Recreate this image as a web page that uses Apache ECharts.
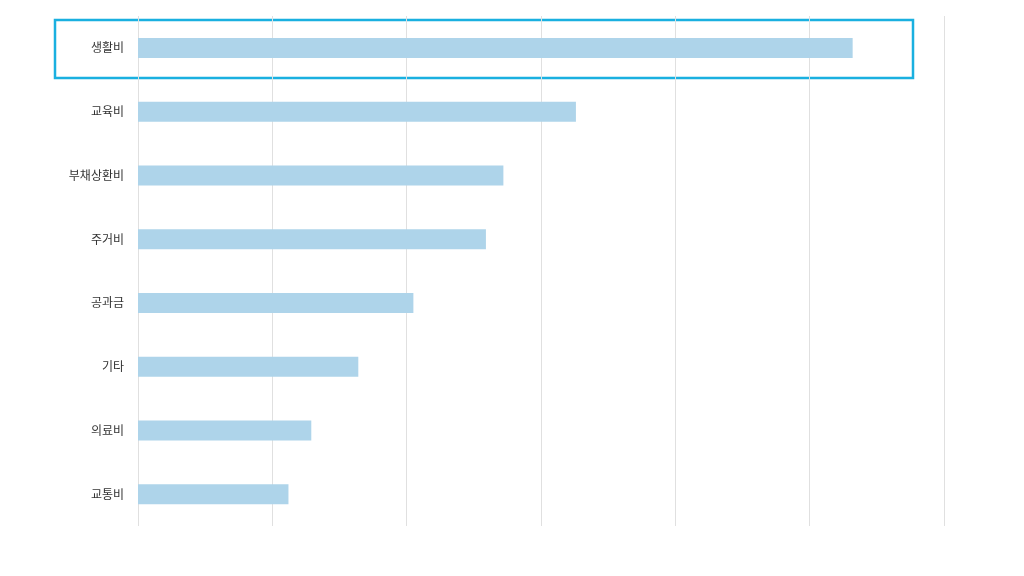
<!DOCTYPE html>
<html>
<head>
<meta charset="utf-8">
<script src="https://cdn.jsdelivr.net/npm/echarts@6/dist/echarts.min.js"></script>
<style>html,body{margin:0;padding:0;background:#fff}#main{width:1024px;height:576px}</style>
</head>
<body>
<div id="main"></div>
<script>
// 항목 (위에서 아래 순서)
var categories = ['생활비', '교육비', '부채상환비', '주거비', '공과금', '기타', '의료비', '교통비'];
var values = [53.2, 32.6, 27.2, 25.9, 20.5, 16.4, 12.9, 11.2];

var chart = echarts.init(document.getElementById('main'));
chart.setOption({
    animation: false,
    grid: { left: 138, right: 80, top: 16, bottom: 50 },
    xAxis: {
        type: 'value', min: 0, max: 60, interval: 10,
        axisLabel: { show: false },
        axisLine: { show: false },
        axisTick: { show: false },
        splitLine: { lineStyle: { color: '#e0e0e0' } }
    },
    yAxis: {
        type: 'category', inverse: true, data: categories,
        axisLine: { show: false },
        axisTick: { show: false },
        axisLabel: { color: '#333', fontSize: 12, margin: 14, fontFamily: 'Noto Sans CJK KR' }
    },
    series: [{
        type: 'bar', data: values, barWidth: 20,
        itemStyle: { color: '#aed4ea' }
    }],
    // 생활비 강조 박스
    graphic: [{
        type: 'rect', shape: { x: 55, y: 20, width: 858, height: 58 },
        style: { fill: 'none', stroke: '#1ab0e0', lineWidth: 2.5 }
    }]
});
</script>
</body>
</html>
